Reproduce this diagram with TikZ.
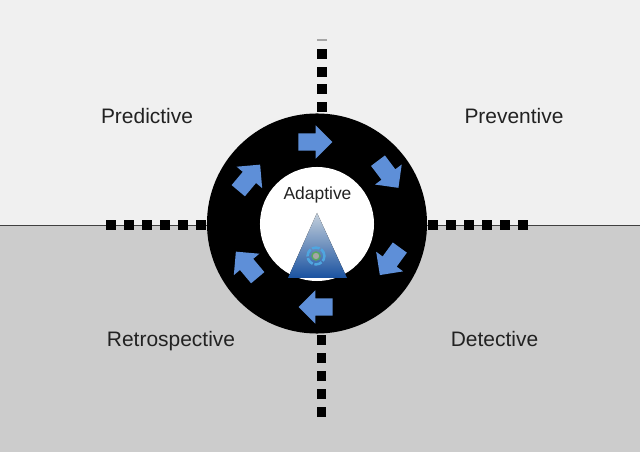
\documentclass[tikz,border=0pt]{standalone}
\usepackage{fontspec}
\setmainfont{Liberation Sans}
\usepackage{xcolor}
\usetikzlibrary{shapes.arrows, shapes.geometric, positioning}
\definecolor{flowblue}{HTML}{5E8FD8}
\definecolor{quadtext}{HTML}{222222}
\definecolor{pyrtop}{HTML}{C4D0DC}
\definecolor{pyrlow}{HTML}{1A52A0}
\definecolor{tgtblue}{HTML}{4FA6E0}
\definecolor{tgtgreen}{HTML}{58A860}

\begin{document}
\begin{tikzpicture}[
    x=0.025cm, y=-0.025cm,
    dot/.style={rectangle, fill=black, inner sep=0pt, minimum size=0.24cm},
    flow/.style={single arrow, fill=flowblue, draw=none, inner sep=0pt,
      text height=0.21cm, text depth=0.21cm, text width=0pt,
      minimum height=0.85cm, minimum width=0.82cm,
      single arrow head extend=0.2cm, single arrow head indent=0cm},
    quad/.style={anchor=base, font=\fontsize{14.9}{18}\selectfont, text=quadtext}
]

\useasboundingbox (0,0) rectangle (640,452);
\fill[gray!12] (0,0) rectangle (640,225);
\fill[gray!40] (0,225) rectangle (640,452);

\coordinate (west) at (0,225);
\coordinate (east) at (640,225);
\draw[black!75, line width=0.6pt] (west) -- (east);

% dotted axes
\foreach \x [count=\i] in {111,129,147,165,183,201}
  \node[dot] (w\i) at (\x,225) {};
\foreach \x [count=\i] in {433,451,469,487,505,523}
  \node[dot] (e\i) at (\x,225) {};
\foreach \y [count=\i] in {54,72,89,107}
  \node[dot] (n\i) at (322,\y) {};
\foreach \y [count=\i] in {340,358,376,394,412}
  \node[dot] (s\i) at (321.5,\y) {};
\node[rectangle, fill=gray!70, inner sep=0pt, minimum width=0.25cm, minimum height=0.03cm] (ntop) at (322,40) {};

% ring
\node[circle, fill=black, inner sep=0pt, minimum size=5.5cm] (ring) at (317,223.5) {};
\node[circle, fill=white, inner sep=0pt, minimum size=2.85cm] (hub) at (317,224) {};

% arrows round the ring
\node[flow] (a1) at (311,142) {};
\node[flow, rotate=-53] (a2) at (385.6,170.8) {};
\node[flow, rotate=-126] (a3) at (392.4,257.8) {};
\node[flow, rotate=180] (a4) at (320,307) {};
\node[flow, rotate=130] (a5) at (249.6,268) {};
\node[flow, rotate=50] (a6) at (246.4,181) {};

% triangle with the small target
\fill[top color=pyrtop, bottom color=pyrlow] (288,278) -- (317,213) -- (347,278) -- cycle;
\node[circle, draw=tgtblue, line width=1.8pt, dash pattern=on 5.5pt off 1.2pt, minimum size=0.42cm, inner sep=0pt] (tgt) at (316,256) {};
\node[circle, draw=tgtgreen, fill=gray!70, line width=1pt, minimum size=0.2cm, inner sep=0pt] (tgtc) at (316,256) {};

\node[anchor=base, font=\fontsize{12.4}{15}\selectfont, text=quadtext] (adaptive) at (317.5,199.5) {Adaptive};
\node[quad] (predictive) at (147,123.5) {Predictive};
\node[quad] (preventive) at (514,123.5) {Preventive};
\node[quad] (retro) at (171,346.5) {Retrospective};
\node[quad] (detective) at (494.5,346.5) {Detective};

\end{tikzpicture}
\end{document}
